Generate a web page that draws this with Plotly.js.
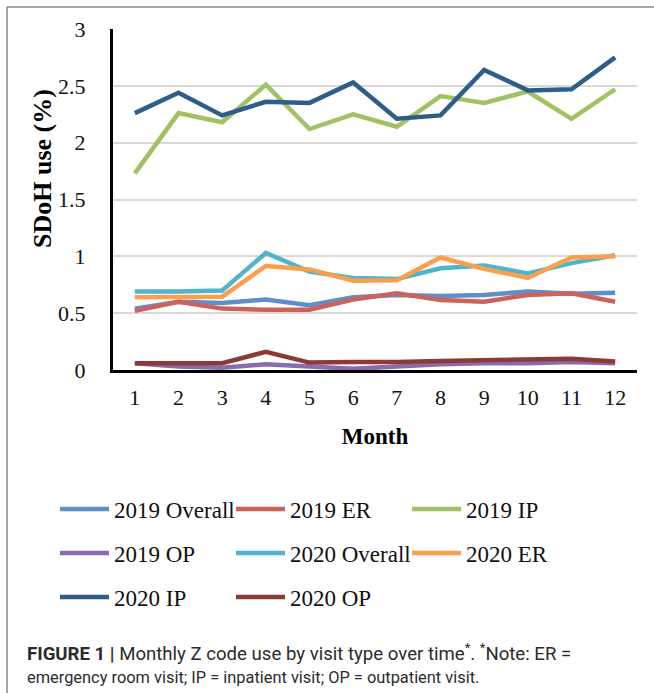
<!DOCTYPE html>
<html>
<head>
<meta charset="utf-8">
<script src="https://cdn.plot.ly/plotly-3.0.1.min.js"></script>
<style>html,body{margin:0;padding:0;background:#fff;}#chart{width:654px;height:693px;}</style>
</head>
<body>
<div id="chart"></div>
<script>
const months = [1,2,3,4,5,6,7,8,9,10,11,12];
const tickLabels = ["1","2","3","4","5","6","7","8","9","10","11","12"];
const seriesNames = ["2019 Overall","2019 ER","2019 IP","2019 OP","2020 Overall","2020 ER","2020 IP","2020 OP"];
const overall2019 = [0.54,0.60,0.59,0.62,0.57,0.64,0.66,0.65,0.66,0.69,0.67,0.68];
const er2019      = [0.52,0.60,0.54,0.53,0.53,0.62,0.675,0.615,0.60,0.66,0.675,0.60];
const ip2019      = [1.73,2.26,2.18,2.51,2.12,2.25,2.14,2.41,2.35,2.45,2.21,2.47];
const op2019      = [0.06,0.03,0.02,0.05,0.03,0.01,0.03,0.05,0.06,0.06,0.07,0.06];
const overall2020 = [0.69,0.69,0.70,1.03,0.865,0.81,0.80,0.895,0.92,0.85,0.94,1.01];
const er2020      = [0.64,0.64,0.645,0.915,0.885,0.785,0.79,0.99,0.89,0.81,0.99,1.00];
const ip2020      = [2.26,2.44,2.24,2.36,2.35,2.53,2.21,2.24,2.64,2.46,2.47,2.75];
const op2020      = [0.06,0.06,0.06,0.16,0.065,0.07,0.07,0.08,0.085,0.09,0.10,0.075];
const seriesValues = [overall2019, er2019, ip2019, op2019, overall2020, er2020, ip2020, op2020];
const colors = ["#5f8fc9","#cc625c","#a0c262","#8a6bb0","#4fb4cc","#f99f4d","#2f5d8a","#8b3a35"];
const legendRows = ["legend","legend","legend","legend2","legend2","legend2","legend3","legend3"];

const traces = seriesNames.map((name, i) => ({
  x: months, y: seriesValues[i], name: name, type: 'scatter', mode: 'lines',
  legend: legendRows[i],
  line: {color: colors[i], width: 4.5}
}));

const serif = '"Liberation Serif","Times New Roman",serif';
const sans = '"Roboto","Liberation Sans",sans-serif';
const px = v => (v - 113) / 524;      // page x -> paper x
const py = v => (370 - v) / 341;      // page y -> paper y
const legendStyle = rowY => ({
  orientation: 'h', xref: 'container', yref: 'container', x: 55/654, y: 1 - rowY/693,
  xanchor: 'left', yanchor: 'middle',
  entrywidth: 112, entrywidthmode: 'pixels', itemwidth: 49,
  font: {family: serif, size: 23, color: '#111'}, bgcolor: 'rgba(0,0,0,0)'
});
const layout = {
  width: 654, height: 693,
  margin: {l: 113, r: 17, t: 29, b: 323},
  paper_bgcolor: '#ffffff', plot_bgcolor: '#ffffff',
  font: {family: serif, size: 22, color: '#111'},
  xaxis: {
    range: [0.5, 12.5], tickmode: 'array', tickvals: months, ticktext: tickLabels,
    showgrid: false, zeroline: false, showline: true, linecolor: '#000', linewidth: 3,
    ticks: '', ticklabelstandoff: 6,
    tickfont: {family: serif, size: 22, color: '#111'},
    title: {text: '<b>Month</b>', font: {family: serif, size: 23, color: '#000'}, standoff: 19}
  },
  yaxis: {
    range: [0, 3], dtick: 0.5, showgrid: true, gridcolor: '#d9d9d9', gridwidth: 2,
    zeroline: false, showline: true, linecolor: '#000', linewidth: 3,
    ticks: '', ticklabelstandoff: 20,
    tickfont: {family: serif, size: 22, color: '#111'}
  },
  showlegend: true,
  legend: legendStyle(509),
  legend2: legendStyle(553),
  legend3: legendStyle(597),
  annotations: [
    {xref: 'paper', yref: 'paper', x: px(42), y: py(169), xanchor: 'center', yanchor: 'middle',
     text: '<b>SDoH use (%)</b>', textangle: -90, showarrow: false,
     font: {family: serif, size: 26, color: '#000'}},
    {xref: 'paper', yref: 'paper', x: px(25), y: py(652), xanchor: 'left', yanchor: 'middle',
     text: '<b>FIGURE 1 |</b> Monthly Z code use by visit type over time<sup>*</sup>. <sup>*</sup>Note: ER =',
     showarrow: false, font: {family: sans, size: 18.6, color: '#2b2b2b'}},
    {xref: 'paper', yref: 'paper', x: px(25), y: py(677), xanchor: 'left', yanchor: 'middle',
     text: 'emergency room visit; IP = inpatient visit; OP = outpatient visit.',
     showarrow: false, font: {family: sans, size: 16.4, color: '#2b2b2b'}}
  ],
  shapes: [
    {type: 'line', xref: 'paper', yref: 'paper', x0: px(7), x1: px(654), y0: py(7), y1: py(7),
     line: {color: '#8a8a8a', width: 1.5}},
    {type: 'line', xref: 'paper', yref: 'paper', x0: px(7), x1: px(7), y0: py(7), y1: py(693),
     line: {color: '#8a8a8a', width: 1.5}}
  ]
};

Plotly.newPlot('chart', traces, layout, {displayModeBar: false, staticPlot: true});
</script>
</body>
</html>
